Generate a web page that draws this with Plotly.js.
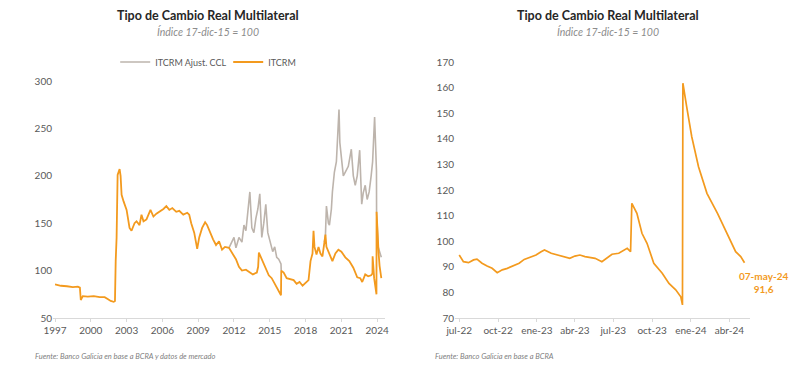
<!DOCTYPE html>
<html><head><meta charset="utf-8">
<script src="https://cdn.plot.ly/plotly-3.0.1.min.js"></script>
<style>html,body{margin:0;padding:0;background:#fff}#chart{width:800px;height:371px}</style>
</head><body><div id="chart"></div>
<script>
// ---- Left chart: ITCRM (monthly-ish readings) ----
const itcrmDates = ["1997-01-01","1997-07-01","1998-01-01","1998-07-01","1998-12-01","1999-02-01","1999-03-01","1999-05-01","1999-10-01","2000-04-01","2000-10-01","2001-03-01","2001-06-01","2001-09-01","2001-12-01","2002-01-10","2002-02-01","2002-03-01","2002-04-01","2002-06-01","2002-07-01","2002-08-01","2002-10-01","2003-01-01","2003-04-01","2003-06-01","2003-09-01","2003-11-01","2004-02-01","2004-04-01","2004-06-01","2004-09-01","2005-01-01","2005-04-01","2005-07-01","2005-10-01","2006-02-01","2006-05-01","2006-08-01","2006-11-01","2007-03-01","2007-06-01","2007-10-01","2008-02-01","2008-04-01","2008-06-01","2008-09-01","2008-12-01","2009-02-01","2009-05-01","2009-08-01","2009-10-01","2010-01-01","2010-04-01","2010-07-01","2010-10-01","2011-01-01","2011-04-01","2011-08-01","2011-12-01","2012-03-01","2012-06-01","2012-09-01","2013-01-01","2013-04-01","2013-08-01","2013-12-01","2014-01-10","2014-02-01","2014-05-01","2014-08-01","2014-12-01","2015-03-01","2015-06-01","2015-09-01","2015-11-01","2015-12-10","2015-12-18","2016-03-01","2016-06-01","2016-09-01","2017-01-01","2017-04-01","2017-07-01","2017-10-01","2018-01-01","2018-04-01","2018-06-01","2018-08-01","2018-09-01","2018-10-01","2018-12-01","2019-02-01","2019-04-01","2019-06-01","2019-08-01","2019-09-01","2019-10-01","2020-01-01","2020-04-01","2020-07-01","2020-10-01","2021-01-01","2021-05-01","2021-09-01","2022-01-01","2022-05-01","2022-08-01","2022-10-01","2023-01-01","2023-04-01","2023-07-01","2023-08-10","2023-08-15","2023-10-01","2023-12-11","2023-12-14","2024-01-15","2024-02-15","2024-03-15","2024-05-07"];
const itcrmValues = [85.5,84,83.5,82.5,83,82,69,73,72.5,73,72,72,70,68,67,68,110,135,201,207,200,180,173,164,145,142,150,152,148,159,152,154,164,157,160,162,165,168,164,166,162,163,159,161,159,150,140,123,135,145,151,148,140,133,127,131,122,125,124,117,112,104,100,101,99,96,98,104,119,112,106,95,92,86,80,75,74,100,98,92,91,90,86,88,84,87,90,110,118,142,125,117,125,118,115,130,138,125,117,110,118,122,120,114,110,103,93,92,88,96,94,95,97,115,92,75,162,130,118,105,92];

// ---- Left chart: ITCRM Ajust. CCL (only where it differs; null = gap) ----
const cclDates = ["2011-08-01","2011-11-01","2012-01-01","2012-03-01","2012-06-01","2012-09-01","2012-11-01","2013-01-01","2013-03-01","2013-05-01","2013-07-01","2013-09-01","2013-11-01","2014-01-01","2014-03-01","2014-05-01","2014-07-01","2014-09-01","2014-11-01","2015-01-01","2015-04-01","2015-06-01","2015-08-01","2015-10-01","2015-12-10","2015-12-18","2016-01-01","2019-08-01","2019-09-01","2019-10-01","2019-12-01","2020-01-01","2020-03-01","2020-04-01","2020-06-01","2020-08-01","2020-10-20","2020-11-15","2021-01-01","2021-03-01","2021-05-01","2021-08-01","2021-11-01","2022-01-01","2022-03-01","2022-05-01","2022-07-15","2022-08-15","2022-09-15","2022-11-01","2023-01-01","2023-03-01","2023-05-01","2023-07-01","2023-08-15","2023-10-15","2023-11-15","2023-12-11","2023-12-14","2024-02-01","2024-05-07"];
const cclValues = [124,130,135,124,135,130,148,142,160,183,145,140,155,165,181,135,150,170,140,131,120,125,114,112,107,100,null,130,138,168,150,148,165,183,204,215,270,235,218,200,204,210,228,200,190,200,227,205,170,182,190,175,183,200,215,262,218,205,162,125,114];

const leftTicks = ["1997","2000","2003","2006","2009","2012","2015","2018","2021","2024"];

// ---- Right chart: ITCRM since jul-22 ----
const rDates = ["2022-07-01","2022-07-11","2022-07-23","2022-08-04","2022-08-12","2022-08-24","2022-09-05","2022-09-17","2022-09-29","2022-10-11","2022-10-23","2022-11-04","2022-11-20","2022-12-02","2022-12-18","2022-12-30","2023-01-11","2023-01-19","2023-02-04","2023-02-20","2023-03-08","2023-03-20","2023-04-01","2023-04-13","2023-04-25","2023-05-07","2023-05-19","2023-06-04","2023-06-16","2023-06-28","2023-07-14","2023-07-26","2023-08-03","2023-08-11","2023-08-14","2023-08-26","2023-09-07","2023-09-19","2023-10-05","2023-10-25","2023-11-10","2023-11-26","2023-12-08","2023-12-12","2023-12-13","2023-12-22","2024-01-03","2024-01-19","2024-02-08","2024-03-04","2024-03-27","2024-04-16","2024-04-28","2024-05-07"];
const rValues = [94.6,92,91.6,92.7,93,91.4,90.3,89.4,87.7,88.8,89.4,90.3,91.4,92.9,94,94.6,95.9,96.6,95.3,94.6,94,93.3,94.2,94.6,94,93.7,93.3,92,93.3,94.9,95.3,96.6,97.2,95.9,114.8,110.9,103.1,99.2,91.4,87.5,83.5,81,78.3,75.1,161.7,152.5,140.8,129.1,118.7,110.9,103.1,95.9,94,91.6];
const rTickVals = ["2022-07-01","2022-10-01","2023-01-01","2023-04-01","2023-07-01","2023-10-01","2024-01-01","2024-04-01"];
const rTickText = ["jul-22","oct-22","ene-23","abr-23","jul-23","oct-23","ene-24","abr-24"];

const ORANGE = "#F39A1E", GREY = "#BDB4AC", TXT = "#595959", FONT = "Lato";

const traces = [
  {x: cclDates, y: cclValues, type: "scatter", mode: "lines", name: "ITCRM Ajust. CCL",
   line: {color: GREY, width: 1.6}, xaxis: "x", yaxis: "y", connectgaps: false},
  {x: itcrmDates, y: itcrmValues, type: "scatter", mode: "lines", name: "ITCRM",
   line: {color: ORANGE, width: 1.8}, xaxis: "x", yaxis: "y"},
  {x: rDates, y: rValues, type: "scatter", mode: "lines", name: "ITCRM", showlegend: false,
   line: {color: ORANGE, width: 1.7}, xaxis: "x2", yaxis: "y2"}
];

const axFont = {family: FONT, size: 10, color: TXT};
const xBase = {type: "date", showgrid: false, zeroline: false, showline: true, linecolor: "#D9D9D9", linewidth: 1,
  ticks: "outside", ticklen: 3, tickcolor: "#D9D9D9", tickfont: axFont, tickmode: "array"};
const yBase = {showgrid: false, zeroline: false, showline: false, ticks: "", tickfont: axFont, tickmode: "array"};

const layout = {
  width: 800, height: 371, margin: {l: 0, r: 0, t: 0, b: 0},
  paper_bgcolor: "#fff", plot_bgcolor: "#fff", font: {family: FONT, color: TXT},
  showlegend: true,
  legend: {orientation: "h", x: 0.144, xanchor: "left", y: 1 - 62/371, yanchor: "middle",
    font: {family: FONT, size: 9, color: TXT}, itemwidth: 30, traceorder: "normal",
    entrywidth: 68, entrywidthmode: "pixels"},
  xaxis: Object.assign({}, xBase, {domain: [0.06625, 0.48125], range: ["1996-10-31","2024-08-28"], anchor: "y",
    tickvals: leftTicks.map(t => t + "-01-01"), ticktext: leftTicks}),
  yaxis: Object.assign({}, yBase, {domain: [1 - 318/371, 1 - 81/371], range: [50, 300], anchor: "x",
    tickvals: [50,100,150,200,250,300]}),
  xaxis2: Object.assign({}, xBase, {domain: [0.56875, 0.9375], range: ["2022-06-21","2024-05-20"], anchor: "y2",
    tickvals: rTickVals, ticktext: rTickText}),
  yaxis2: Object.assign({}, yBase, {domain: [1 - 318/371, 1 - 62/371], range: [70, 170], anchor: "x2",
    tickvals: [70,80,90,100,110,120,130,140,150,160,170]}),
  annotations: [
    {xref: "paper", yref: "paper", x: 0.26, y: 1 - 16/371, text: "<b>Tipo de Cambio Real Multilateral</b>", showarrow: false,
     font: {family: FONT, size: 12.5, color: "#262626"}, xanchor: "center", yanchor: "middle"},
    {xref: "paper", yref: "paper", x: 0.26, y: 1 - 31/371, text: "<i>Índice 17-dic-15 = 100</i>", showarrow: false,
     font: {family: FONT, size: 10.5, color: "#8C8C8C"}, xanchor: "center", yanchor: "middle"},
    {xref: "paper", yref: "paper", x: 0.76, y: 1 - 16/371, text: "<b>Tipo de Cambio Real Multilateral</b>", showarrow: false,
     font: {family: FONT, size: 12.5, color: "#262626"}, xanchor: "center", yanchor: "middle"},
    {xref: "paper", yref: "paper", x: 0.76, y: 1 - 31/371, text: "<i>Índice 17-dic-15 = 100</i>", showarrow: false,
     font: {family: FONT, size: 10.5, color: "#8C8C8C"}, xanchor: "center", yanchor: "middle"},
    {xref: "paper", yref: "paper", x: 33/800, y: 1 - 356/371, text: "<i>Fuente: Banco Galicia en base a BCRA y datos de mercado</i>", showarrow: false,
     font: {family: FONT, size: 7.5, color: "#7F7F7F"}, xanchor: "left", yanchor: "middle"},
    {xref: "paper", yref: "paper", x: 433/800, y: 1 - 356/371, text: "<i>Fuente: Banco Galicia en base a BCRA</i>", showarrow: false,
     font: {family: FONT, size: 7.5, color: "#7F7F7F"}, xanchor: "left", yanchor: "middle"},
    {xref: "paper", yref: "paper", x: 763/800, y: 1 - 282/371, text: "<b>07-may-24<br>91,6</b>", showarrow: false, align: "center",
     font: {family: FONT, size: 10, color: ORANGE}, xanchor: "center", yanchor: "middle"}
  ]
};

Plotly.newPlot("chart", traces, layout, {displayModeBar: false, staticPlot: true});
</script></body></html>
